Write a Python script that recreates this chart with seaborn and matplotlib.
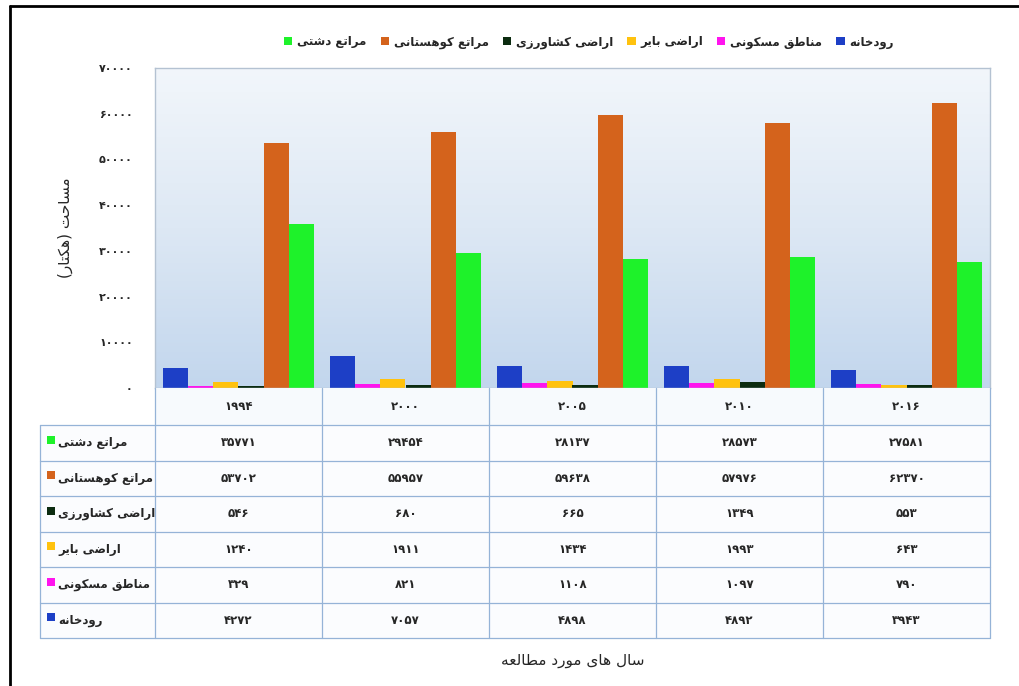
import numpy as np
import pandas as pd
import seaborn as sns
import matplotlib.pyplot as plt
from matplotlib.lines import Line2D
from matplotlib.patches import Rectangle
from matplotlib.colors import LinearSegmentedColormap

# data
years = [1994, 2000, 2005, 2010, 2016]
series = ['رودخانه', 'مناطق مسکونی', 'اراضی بایر', 'اراضی کشاورزی', 'مراتع کوهستانی', 'مراتع دشتی']
river = [4272, 7057, 4898, 4892, 3943]
residential = [329, 821, 1108, 1097, 790]
barren = [1240, 1911, 1434, 1993, 643]
farm = [546, 680, 665, 1349, 553]
mountain = [53702, 55957, 59638, 57976, 62370]
plain = [35771, 29454, 28137, 28573, 27581]
colors = ['#1d3fc6', '#ff14ee', '#ffc20e', '#0c2c10', '#d4631c', '#1ef22a']
y_ticks = [0, 10000, 20000, 30000, 40000, 50000, 60000, 70000]
y_label = 'مساحت (هکتار)'
x_label = 'سال های مورد مطالعه'

# small Persian shaper (presentation forms + visual order)
FORMS = {
    'ا': (0xFE8D, 0xFE8E, None, None), 'ب': (0xFE8F, 0xFE90, 0xFE91, 0xFE92),
    'ت': (0xFE95, 0xFE96, 0xFE97, 0xFE98), 'ح': (0xFEA1, 0xFEA2, 0xFEA3, 0xFEA4),
    'خ': (0xFEA5, 0xFEA6, 0xFEA7, 0xFEA8), 'د': (0xFEA9, 0xFEAA, None, None),
    'ر': (0xFEAD, 0xFEAE, None, None), 'ز': (0xFEAF, 0xFEB0, None, None),
    'س': (0xFEB1, 0xFEB2, 0xFEB3, 0xFEB4), 'ش': (0xFEB5, 0xFEB6, 0xFEB7, 0xFEB8),
    'ض': (0xFEBD, 0xFEBE, 0xFEBF, 0xFEC0), 'ط': (0xFEC1, 0xFEC2, 0xFEC3, 0xFEC4),
    'ع': (0xFEC9, 0xFECA, 0xFECB, 0xFECC), 'ق': (0xFED5, 0xFED6, 0xFED7, 0xFED8),
    'ک': (0xFB8E, 0xFB8F, 0xFB90, 0xFB91), 'ل': (0xFEDD, 0xFEDE, 0xFEDF, 0xFEE0),
    'م': (0xFEE1, 0xFEE2, 0xFEE3, 0xFEE4), 'ن': (0xFEE5, 0xFEE6, 0xFEE7, 0xFEE8),
    'ه': (0xFEE9, 0xFEEA, 0xFEEB, 0xFEEC), 'و': (0xFEED, 0xFEEE, None, None),
    'ی': (0xFBFC, 0xFBFD, 0xFBFE, 0xFBFF),
}


def fa(text):
    out = []
    for i, ch in enumerate(text):
        if ch not in FORMS:
            out.append(ch)
            continue
        prev = text[i - 1] if i > 0 else ''
        nxt = text[i + 1] if i + 1 < len(text) else ''
        jp = prev in FORMS and FORMS[prev][2] is not None
        jn = nxt in FORMS and FORMS[ch][2] is not None
        iso, fin, ini, med = FORMS[ch]
        c = med if (jp and jn) else fin if jp else ini if jn else iso
        out.append(chr(c))
    s = ''.join(out)[::-1]
    return s.translate({ord('('): ')', ord(')'): '('})


def fa_num(n):
    return str(n).translate(str.maketrans('0123456789', '۰۱۲۳۴۵۶۷۸۹'))


values = [river, residential, barren, farm, mountain, plain]
df = pd.DataFrame({
    'year': [fa_num(y) for s in series for y in years],
    'series': [s for s in series for y in years],
    'area': [v for vals in values for v in vals],
})

sns.set_style('white')
plt.rcParams['font.family'] = ['DejaVu Sans']

fig = plt.figure(figsize=(10.2, 6.86), dpi=100)
W, H = 1020, 686
ax = fig.add_axes([155 / W, 1 - 388 / H, 835 / W, 320 / H])

cmap = LinearSegmentedColormap.from_list('bg', ['#c2d6ed', '#dde8f4', '#f2f6fb'])
ax.imshow(np.linspace(0, 1, 256).reshape(-1, 1), cmap=cmap, origin='lower',
          extent=[-0.5, 4.5, 0, 70000], aspect='auto', zorder=0)

sns.barplot(data=df, x='year', y='area', hue='series', hue_order=series,
            palette=dict(zip(series, colors)), width=0.91, saturation=1,
            linewidth=0, edgecolor='none', ax=ax, zorder=2)

handles, labels = ax.get_legend_handles_labels()
ax.get_legend().remove()

ax.set_xlim(-0.5, 4.5)
ax.set_ylim(0, 70000)
ax.set_yticks(y_ticks)
ax.set_yticklabels([fa_num(t) for t in y_ticks], fontsize=8, fontweight='bold')
ax.tick_params(axis='y', length=0, pad=16)
ax.set_xticks([])
ax.set_xlabel('')
ax.set_ylabel('')
for sp in ax.spines.values():
    sp.set_color('#b4c2d2')
    sp.set_linewidth(1)

fig.text(65 / W, 1 - 228 / H, fa(y_label), rotation=90, ha='center', va='center', fontsize=11)

fig.legend(handles[::-1], [fa(l) for l in labels[::-1]], loc='center',
           bbox_to_anchor=(589 / W, 1 - 42 / H), ncol=6, frameon=False,
           handlelength=0.7, handleheight=0.7, handletextpad=0.4, columnspacing=1.2,
           prop={'size': 8.5, 'weight': 'bold'})

# data table under the chart
tab = fig.add_axes([0, 0, 1, 1])
tab.set_xlim(0, W)
tab.set_ylim(H, 0)
tab.axis('off')
grid = '#95b3d7'
x_left = 40
bb = ax.get_position()
x0, x1 = bb.x0 * W, bb.x1 * W
cw = (x1 - x0) / len(years)
y_top = (1 - bb.y0) * H
y_head = y_top + 37
rh = 35.5
rows = series[::-1]
row_vals = values[::-1]
row_cols = colors[::-1]
y_bot = y_head + rh * len(rows)

tab.add_patch(Rectangle((x0, y_top), x1 - x0, y_head - y_top, facecolor='#f7fafd', edgecolor='none'))
tab.add_patch(Rectangle((x_left, y_head), x1 - x_left, y_bot - y_head, facecolor='#fbfcfe', edgecolor='none'))
for i in range(len(years) + 1):
    tab.plot([x0 + i * cw] * 2, [y_top, y_bot], color=grid, lw=0.9)
tab.plot([x_left] * 2, [y_head, y_bot], color=grid, lw=0.9)
for k in range(len(rows) + 1):
    yy = y_head + k * rh
    tab.plot([x_left, x1], [yy, yy], color=grid, lw=0.9)

for i, y in enumerate(years):
    tab.text(x0 + (i + 0.5) * cw, (y_top + y_head) / 2, fa_num(y), ha='center', va='center',
             fontsize=8.5, fontweight='bold')
for k, (name, vals, col) in enumerate(zip(rows, row_vals, row_cols)):
    yc = y_head + (k + 0.5) * rh
    tab.add_patch(Rectangle((47, yc - 7), 8, 8, facecolor=col, edgecolor='none'))
    tab.text(58, yc, fa(name), ha='left', va='center', fontsize=8.5, fontweight='bold')
    for i, v in enumerate(vals):
        tab.text(x0 + (i + 0.5) * cw, yc, fa_num(v), ha='center', va='center',
                 fontsize=8.5, fontweight='bold')

fig.text((x0 + x1) / 2 / W, 1 - 660 / H, fa(x_label), ha='center', va='center', fontsize=11)

# page frame
fig.add_artist(Line2D([10 / W, 1], [1 - 6 / H] * 2, color='black', lw=2))
fig.add_artist(Line2D([10 / W] * 2, [0, 1 - 6 / H], color='black', lw=2))

fig.savefig('out.png', dpi=100, facecolor='white')
